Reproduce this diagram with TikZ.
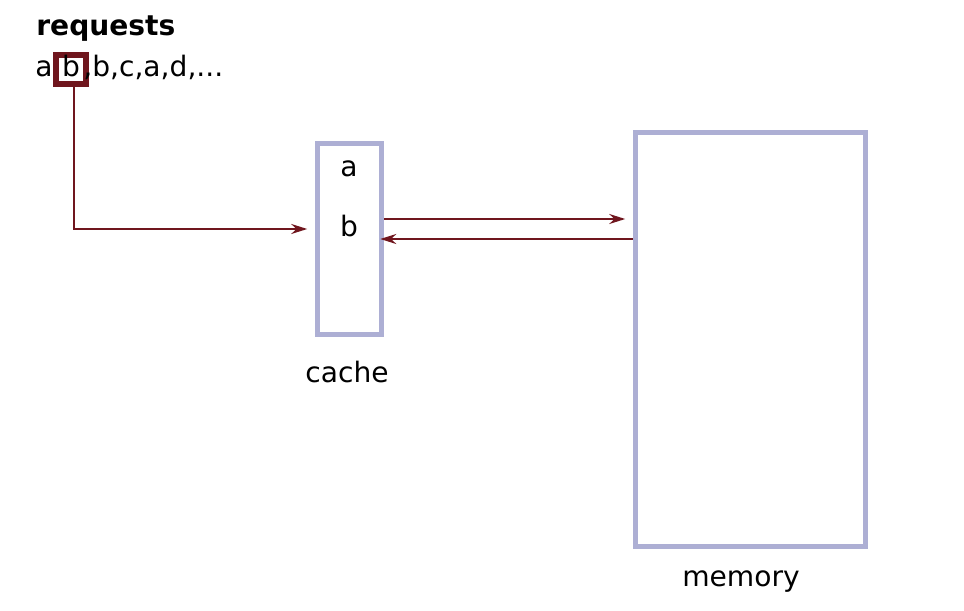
\documentclass[tikz,border=0pt]{standalone}
\usepackage{fontspec}
\setmainfont{DejaVu Sans}
\usepackage{tikz}
\usetikzlibrary{arrows.meta}
\usetikzlibrary{positioning}
\definecolor{lav}{RGB}{173,175,212}
\definecolor{darkred}{RGB}{112,22,30}
\tikzset{
  txt/.style={inner sep=0pt,font=\fontsize{16}{19}\selectfont},
  store/.style={draw=lav,line width=0.11cm,fill=white},
  req/.style={draw=darkred,line width=0.04cm,-{Stealth[length=0.32cm,width=0.2cm]}}
}

\begin{document}
\begin{tikzpicture}
    \useasboundingbox (0,0) rectangle (19.28,12.2);
    \node[txt,anchor=base west,font=\fontsize{16}{19}\selectfont\bfseries] (title) at (0.72,11.48) {requests};
    \node[txt,anchor=base west] (ra) at (0.70,10.66) {a};
    \node[txt,anchor=base,draw=darkred,line width=0.12cm,minimum width=0.6cm,
      text height=0.44cm,text depth=0.14cm] (rb) at (1.42,10.66) {b};
    \node[txt,anchor=base west] (rest) at (1.66,10.66) {,b,c,a,d,...};
    \node[store,minimum width=1.28cm,minimum height=3.82cm] (cache) at (6.99,7.42) {};
    \node[txt,anchor=base] (ca) at (6.98,8.666) {a};
    \node[txt,anchor=base] (cb) at (6.98,7.48) {b};
    \node[txt,anchor=base] (cachelabel) at (6.94,4.546) {cache};
    \node[store,minimum width=4.6cm,minimum height=8.28cm] (memory) at (15.01,5.41) {};
    \node[txt,anchor=base] (memlabel) at (14.82,0.466) {memory};
    \coordinate (up) at ([yshift=0.4cm]cache.east);
    \draw[req] ([xshift=0.06cm]rb.south) |- ([xshift=-0.15cm]cache.west |- 0,7.62);
    \draw[req,shorten >=0.15cm] (up) -- (memory.west |- up);
    \draw[req,shorten >=-0.08cm] (memory.west |- cache.east) -- (cache.east);
\end{tikzpicture}
\end{document}
